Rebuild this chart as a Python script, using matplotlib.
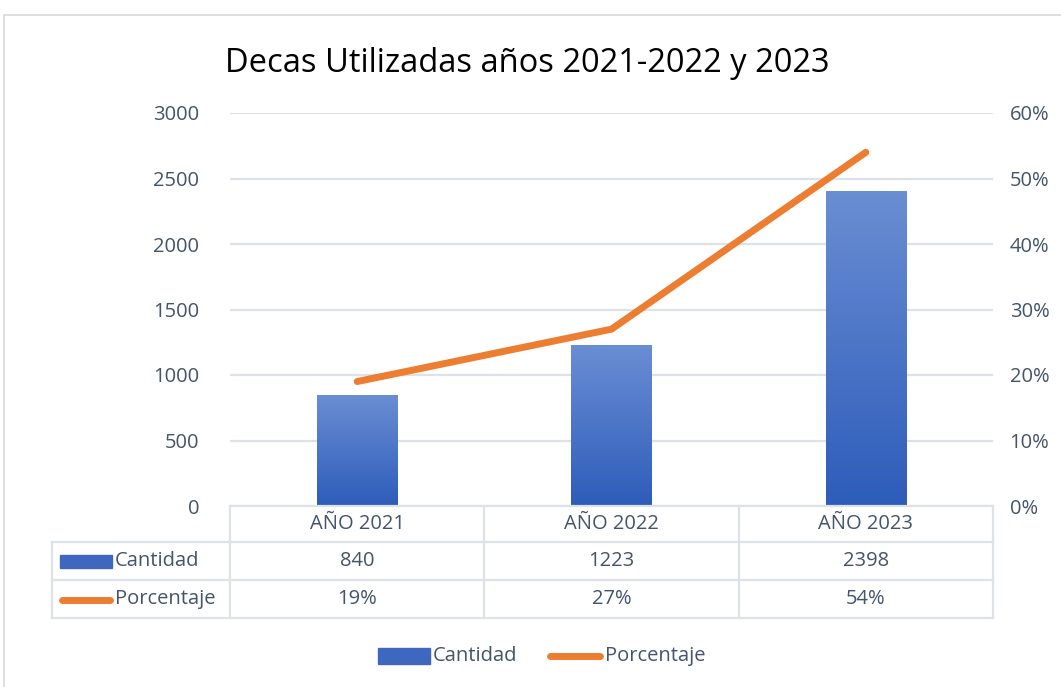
import numpy as np
import matplotlib.pyplot as plt
from matplotlib.patches import Rectangle
from matplotlib.lines import Line2D
from matplotlib.colors import LinearSegmentedColormap
import matplotlib.transforms as mtransforms

# Data
years = ["AÑO 2021", "AÑO 2022", "AÑO 2023"]
cantidad = [840, 1223, 2398]
porcentaje = [19, 27, 54]
pct_labels = ["19%", "27%", "54%"]
title = "Decas Utilizadas años 2021-2022 y 2023"

# Style
plt.rcParams['font.family'] = ['Open Sans', 'DejaVu Sans']
TXT = '#44546a'
GRID = '#dde1e8'
ORANGE = '#ed7d31'
FS = 14.5
W, H = 1061, 687

def fx(px):
    return px / W

def fy(py):
    return 1 - py / H

fig = plt.figure(figsize=(W / 100, H / 100), dpi=100)
fig.patch.set_facecolor('white')

# outer chart frame
fig.add_artist(Rectangle((fx(4), fy(700)), fx(1100) - fx(4), fy(15) - fy(700),
                         transform=fig.transFigure, fill=False, edgecolor='#d9d9d9', lw=1.2))

ax = fig.add_axes([fx(230), fy(506), fx(993) - fx(230), fy(113) - fy(506)])
ax2 = ax.twinx()

x = np.arange(len(years))
bars = ax.bar(x, cantidad, width=0.315, color='#4472c4', zorder=2)

# gradient fill on bars
cmap = LinearSegmentedColormap.from_list('bg', ['#2d5cba', '#6a8ed3'])
grad = np.linspace(0, 1, 256).reshape(-1, 1)
for b in bars:
    ax.imshow(grad, extent=(b.get_x(), b.get_x() + b.get_width(), 0, b.get_height()),
              origin='lower', cmap=cmap, aspect='auto', zorder=3)

ax.set_xlim(-0.5, 2.5)
ax.set_ylim(0, 3000)
ax.set_yticks(range(0, 3001, 500))
ax.grid(axis='y', color=GRID, lw=1.6, zorder=0)
ax.set_axisbelow(True)
ax.set_xticks([])

ax2.plot(x, porcentaje, color=ORANGE, lw=5, solid_capstyle='round', zorder=5)
ax2.set_ylim(0, 60)
ax2.set_yticks(range(0, 61, 10))
ax2.set_yticklabels([f"{v}%" for v in range(0, 61, 10)])

for a in (ax, ax2):
    for s in a.spines.values():
        s.set_visible(False)
    a.tick_params(length=0, labelsize=FS, labelcolor=TXT)
ax.tick_params(axis='y', pad=22)
ax2.tick_params(axis='y', pad=12)

fig.text(0.497, fy(64), title, ha='center', va='center', fontsize=23.5, color='black')

# data table below the plot
bt = mtransforms.blended_transform_factory(ax.transData, fig.transFigure)
rows_y = [506, 542, 580, 618]
edges = [-0.5, 0.5, 1.5, 2.5]
tl = dict(color=GRID, lw=1.6)
left_px = 52

# horizontal lines
fig.add_artist(Line2D([fx(230), fx(993)], [fy(506), fy(506)], transform=fig.transFigure, **tl))
for ry in rows_y[1:]:
    fig.add_artist(Line2D([fx(left_px), fx(993)], [fy(ry), fy(ry)], transform=fig.transFigure, **tl))
# vertical lines
for e in edges:
    fig.add_artist(Line2D([e, e], [fy(506), fy(618)], transform=bt, **tl))
fig.add_artist(Line2D([fx(left_px), fx(left_px)], [fy(542), fy(618)], transform=fig.transFigure, **tl))

for i in range(len(years)):
    fig.text(x[i], fy(524), years[i], transform=bt, ha='center', va='center', fontsize=FS, color=TXT)
    fig.text(x[i], fy(561), str(cantidad[i]), transform=bt, ha='center', va='center', fontsize=FS, color=TXT)
    fig.text(x[i], fy(599), pct_labels[i], transform=bt, ha='center', va='center', fontsize=FS, color=TXT)

# row headers with legend keys
fig.add_artist(Rectangle((fx(60), fy(568)), fx(112) - fx(60), fy(555) - fy(568),
                         transform=fig.transFigure, color='#3e68c0'))
fig.text(fx(115), fy(561), "Cantidad", ha='left', va='center', fontsize=FS, color=TXT)
fig.add_artist(Line2D([fx(62), fx(110)], [fy(600), fy(600)], transform=fig.transFigure,
                      color=ORANGE, lw=5, solid_capstyle='round'))
fig.text(fx(115), fy(599), "Porcentaje", ha='left', va='center', fontsize=FS, color=TXT)

# bottom legend
fig.add_artist(Rectangle((fx(378), fy(664)), fx(430) - fx(378), fy(648) - fy(664),
                         transform=fig.transFigure, color='#3e68c0'))
fig.text(fx(433), fy(656), "Cantidad", ha='left', va='center', fontsize=FS, color=TXT)
fig.add_artist(Line2D([fx(550), fx(600)], [fy(656), fy(656)], transform=fig.transFigure,
                      color=ORANGE, lw=5, solid_capstyle='round'))
fig.text(fx(605), fy(656), "Porcentaje", ha='left', va='center', fontsize=FS, color=TXT)

fig.savefig('out.png', dpi=100, facecolor='white')
